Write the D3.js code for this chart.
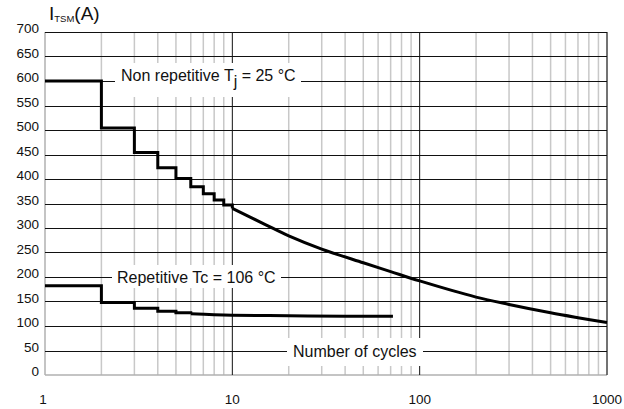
<!DOCTYPE html>
<html>
<head>
<meta charset="utf-8">
<script src="https://cdn.jsdelivr.net/npm/d3@7"></script>
<style>
  html, body { margin: 0; padding: 0; background: #fff; }
  svg { display: block; font-family: "Liberation Sans", Arial, sans-serif; }
</style>
</head>
<body>
<svg id="chart" width="624" height="409"></svg>
<script>
// ---- data ----
const yTicks = [0, 50, 100, 150, 200, 250, 300, 350, 400, 450, 500, 550, 600, 650, 700];
const xTickLabels = [1, 10, 100, 1000];

// Non repetitive Tj = 25 °C : stepped part (cycles 1..10), then smooth tail
const nonRepStepCycles = [1, 2, 3, 4, 5, 6, 7, 8, 9, 10];
const nonRepStepValues = [600, 504, 454, 423, 401, 384, 370, 357, 347, 340];
const nonRepTailCycles = [10, 15, 20, 30, 50, 70, 100, 200, 300, 500, 700, 1000];
const nonRepTailValues = [340, 307, 284, 257, 229, 211, 192, 159, 144, 127, 117, 107];

// Repetitive Tc = 106 °C
const repStepCycles = [1, 2, 3, 4, 5, 6];
const repStepValues = [182, 148, 136, 130, 127, 125];
const repTailCycles = [6, 8, 10, 20, 40, 72];
const repTailValues = [125, 123, 122, 121, 120, 120];

// ---- layout ----
const svg = d3.select("#chart");
const x = d3.scaleLog().domain([1, 1000]).range([45, 607]);
const y = d3.scaleLinear().domain([0, 700]).range([375, 32]);

const g = svg.append("g");

// minor vertical grid
const minor = [];
[1, 10, 100].forEach(d => { for (let k = 2; k <= 9; k++) minor.push(d * k); });
g.selectAll(".vminor").data(minor).enter().append("line")
  .attr("x1", d => x(d)).attr("x2", d => x(d))
  .attr("y1", y(700)).attr("y2", y(0))
  .attr("stroke", "#c8c8c8").attr("stroke-width", 1.5);

// left / bottom light edges
g.append("line").attr("x1", x(1)).attr("x2", x(1)).attr("y1", y(700)).attr("y2", y(0))
  .attr("stroke", "#b0b0b0").attr("stroke-width", 1.5);
g.append("line").attr("x1", x(1)).attr("x2", x(1000)).attr("y1", y(0)).attr("y2", y(0))
  .attr("stroke", "#b0b0b0").attr("stroke-width", 1.5);

// major verticals
g.selectAll(".vmajor").data([10, 100]).enter().append("line")
  .attr("x1", d => x(d)).attr("x2", d => x(d))
  .attr("y1", y(700)).attr("y2", y(0))
  .attr("stroke", "#111").attr("stroke-width", 1);
g.append("line").attr("x1", x(1000)).attr("x2", x(1000)).attr("y1", y(700)).attr("y2", y(0))
  .attr("stroke", "#444").attr("stroke-width", 1.5);

// horizontal grid
g.selectAll(".hgrid").data(yTicks.filter(d => d > 0)).enter().append("line")
  .attr("x1", x(1)).attr("x2", x(1000))
  .attr("y1", d => Math.round(y(d)) + 0.5).attr("y2", d => Math.round(y(d)) + 0.5)
  .attr("stroke", "#111").attr("stroke-width", 1);

// y tick labels
g.selectAll(".ylab").data(yTicks).enter().append("text")
  .attr("x", 39).attr("y", d => y(d) + 1)
  .attr("text-anchor", "end").attr("font-size", 13.5).attr("fill", "#111")
  .text(d => d);

// x tick labels
g.selectAll(".xlab").data(xTickLabels).enter().append("text")
  .attr("x", d => x(d) - (d === 1 ? 2 : 0)).attr("y", 404)
  .attr("text-anchor", "middle").attr("font-size", 13.5).attr("fill", "#111")
  .text(d => d);

// y title
const title = g.append("text").attr("x", 49).attr("y", 20).attr("fill", "#111").attr("font-size", 19);
title.append("tspan").text("I");
title.append("tspan").attr("font-size", 9.5).attr("dy", 2).text("TSM");
title.append("tspan").attr("dy", -2).text("(A)");

// label boxes
function labelBox(x0, x1, y0, y1) {
  g.append("rect").attr("x", x0).attr("y", y0).attr("width", x1 - x0).attr("height", y1 - y0)
    .attr("fill", "#fff");
}
labelBox(115, 301, 63, 97);
labelBox(112, 281, 265, 288);
labelBox(287, 423, 338, 366);

const t1 = g.append("text").attr("x", 121).attr("y", 81).attr("font-size", 16).attr("fill", "#111");
t1.append("tspan").text("Non repetitive T");
t1.append("tspan").attr("dy", 6).text("j");
t1.append("tspan").attr("dy", -6).text(" = 25 °C");

g.append("text").attr("x", 117).attr("y", y(200) + 5.5).attr("font-size", 16).attr("fill", "#111")
  .text("Repetitive Tc = 106 °C");

g.append("text").attr("x", 293).attr("y", y(50) + 6).attr("font-size", 16).attr("fill", "#111")
  .text("Number of cycles");

// curves
const stepLine = d3.line().x(d => x(d[0])).y(d => y(d[1])).curve(d3.curveStepAfter);
const smoothLine = d3.line().x(d => x(d[0])).y(d => y(d[1])).curve(d3.curveCatmullRom.alpha(0.5));

function drawPath(gen, cx, cy) {
  g.append("path").datum(cx.map((c, i) => [c, cy[i]]))
    .attr("d", gen).attr("fill", "none").attr("stroke", "#000")
    .attr("stroke-width", 3).attr("stroke-linejoin", "miter");
}
drawPath(stepLine, nonRepStepCycles, nonRepStepValues);
drawPath(smoothLine, nonRepTailCycles, nonRepTailValues);
drawPath(stepLine, repStepCycles, repStepValues);
drawPath(smoothLine, repTailCycles, repTailValues);
</script>
</body>
</html>
